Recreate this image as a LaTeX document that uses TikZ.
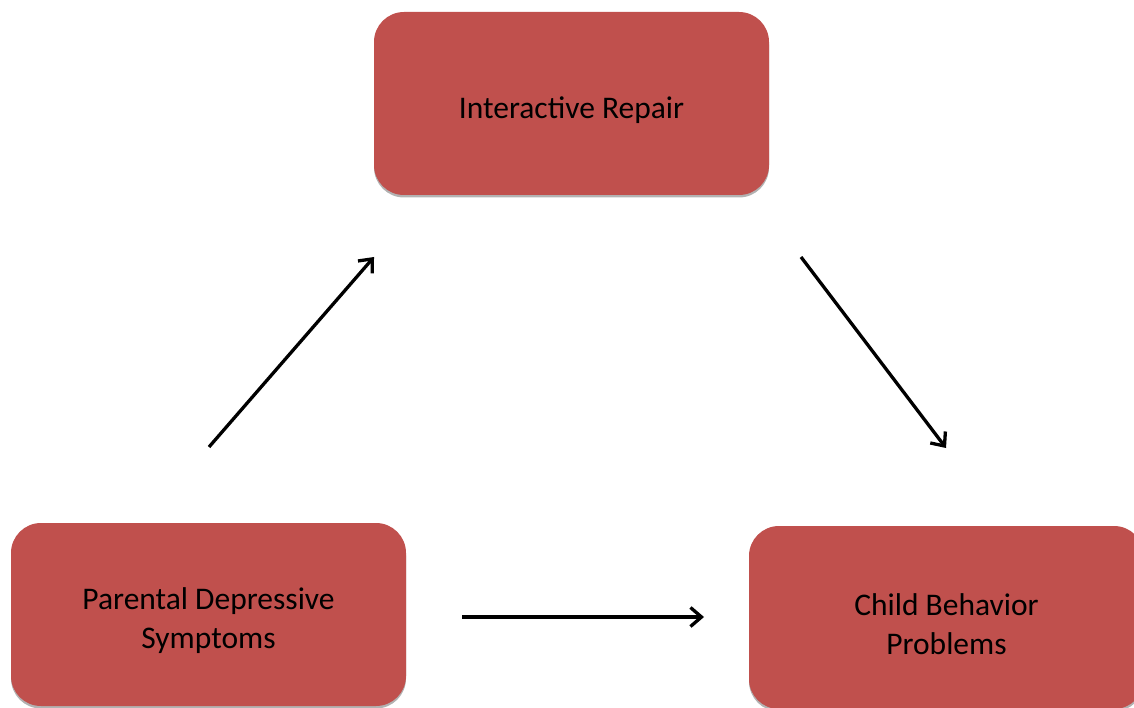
\documentclass[tikz,border=0pt]{standalone}
\usepackage{fontspec}
\setmainfont{Carlito}
\usetikzlibrary{arrows.meta,shadows}
\definecolor{boxred}{HTML}{C0504D}
\tikzset{
  box/.style={rectangle, rounded corners=30pt, fill=boxred, minimum width=395pt, minimum height=183pt,
    drop shadow={shadow xshift=0pt, shadow yshift=-2.5pt, opacity=0.3, fill=black}},
  lbl/.style={align=center, text=black, font=\fontsize{31.5}{39}\selectfont, yshift=-6.5pt},
  link/.style={line width=3.3pt, -{Straight Barb[length=11pt,width=19pt]}}
}
\begin{document}
\begin{tikzpicture}[x=1pt,y=-1pt]
\useasboundingbox (0,0) rectangle (1134,708);
\clip (0,0) rectangle (1134,708);
\node[box, label={[lbl]center:Interactive Repair}] (repair) at (571.5,103.5) {};
\node[box, label={[lbl]center:Parental Depressive\\Symptoms}] (parent) at (208.5,614.5) {};
\node[box, label={[lbl]center:Child Behavior\\Problems}] (child) at (946.5,617.5) {};
\coordinate (a1s) at (209,447);
\coordinate (a1e) at (374,257);
\coordinate (a2s) at (801,257);
\coordinate (a2e) at (946,448);
\coordinate (a3s) at (462,617);
\coordinate (a3e) at (704,617);
\draw[link] (a1s) -- (a1e);
\draw[link] (a2s) -- (a2e);
\draw[link] (a3s) -- (a3e);
\end{tikzpicture}
\end{document}
